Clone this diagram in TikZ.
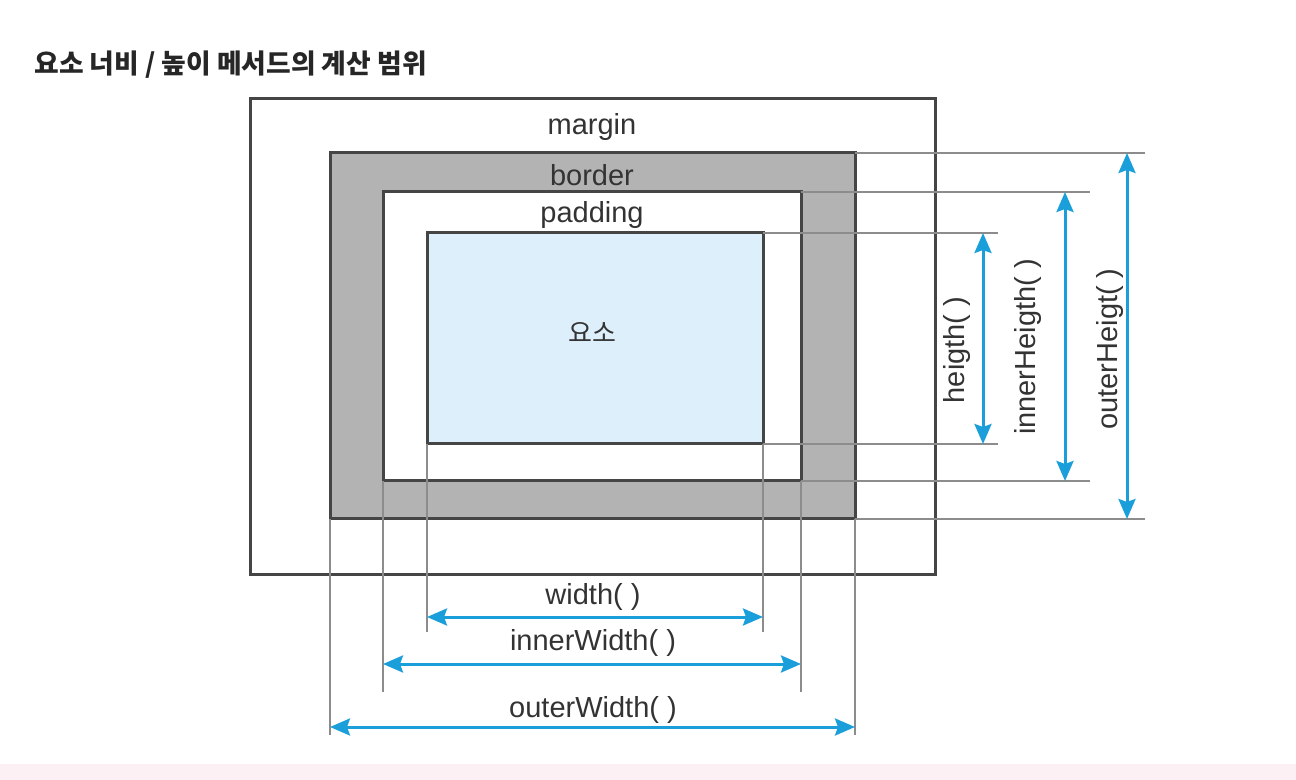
\documentclass[tikz,border=0pt]{standalone}
\usepackage{fontspec}
\setmainfont{Liberation Sans}
\newfontfamily\krfont{Noto Sans CJK KR}
\usetikzlibrary{arrows.meta}
\definecolor{edgecol}{HTML}{454545}
\definecolor{bordergray}{HTML}{B3B3B3}
\definecolor{contentblue}{HTML}{DDEFFA}
\definecolor{dimblue}{HTML}{1A9FDB}
\definecolor{guidecol}{HTML}{8C8C8C}
\definecolor{pinkstrip}{HTML}{FDF0F5}
\definecolor{txtcol}{HTML}{333333}
\tikzset{
  boxnode/.style={draw=edgecol, line width=1.5pt, inner sep=0pt, outer sep=0pt},
  guideline/.style={draw=guidecol, line width=0.6pt},
  dimarrow/.style={draw=dimblue, line width=1.5pt, {Stealth[length=10pt,width=8.5pt,inset=1.5pt]}-{Stealth[length=10pt,width=8.5pt,inset=1.5pt]}},
  lbl/.style={text=txtcol, font=\fontsize{14.5}{16}\selectfont, inner sep=0pt},
  titlelbl/.style={text=black!85, font=\krfont\bfseries\fontsize{13.4}{15}\selectfont, inner sep=0pt, anchor=west}
}
\begin{document}
\begin{tikzpicture}[x=0.5pt,y=-0.5pt]
\useasboundingbox (0,0) rectangle (1296,780);
\fill[white] (0,0) rectangle (1296,780);
\fill[pinkstrip] (0,764) rectangle (1296,780);

\node[titlelbl] (title) at (34,65) {요소 너비 / 높이 메서드의 계산 범위};

% boxes
\node[boxnode, minimum width=342.5pt, minimum height=237.5pt] (margin) at (592.5,336.5) {};
\node[boxnode, fill=bordergray, minimum width=262.5pt, minimum height=183pt] (border) at (592.5,336) {};
\node[boxnode, fill=white, minimum width=209pt, minimum height=144.5pt] (padding) at (592,336.5) {};
\node[boxnode, fill=contentblue, minimum width=168pt, minimum height=105.5pt] (content) at (595,338.5) {};

% labels in boxes
\node[lbl] (lmargin) at (592,127) {margin};
\node[lbl] (lborder) at (592,175) {border};
\node[lbl] (lpadding) at (592,215) {padding};
\node[text=txtcol, font=\krfont\fontsize{13}{15}\selectfont, inner sep=0pt] (lcontent) at (592,332) {요소};

% guide lines (vertical)
\draw[guideline] (content.south west) -- ++(0,188) coordinate (gcl);
\draw[guideline] (content.south east) -- ++(0,188) coordinate (gcr);
\draw[guideline] (padding.south west) -- ++(0,211) coordinate (gpl);
\draw[guideline] (padding.south east) -- ++(0,211) coordinate (gpr);
\draw[guideline] (border.south west) -- ++(0,216) coordinate (gbl);
\draw[guideline] (border.south east) -- ++(0,216) coordinate (gbr);
% guide lines (horizontal)
\draw[guideline] (content.north east) -- ++(235,0) coordinate (gct);
\draw[guideline] (content.south east) -- ++(235,0) coordinate (gcb);
\draw[guideline] (padding.north east) -- ++(289,0) coordinate (gpt);
\draw[guideline] (padding.south east) -- ++(289,0) coordinate (gpb);
\draw[guideline] (border.north east) -- ++(290,0) coordinate (gbt);
\draw[guideline] (border.south east) -- ++(290,0) coordinate (gbb);

% horizontal dimension arrows
\coordinate (wL) at (content.south west |- 0,617);
\coordinate (wR) at (content.south east |- 0,617);
\coordinate (iwL) at (padding.south west |- 0,664);
\coordinate (iwR) at (padding.south east |- 0,664);
\coordinate (owL) at (border.south west |- 0,727);
\coordinate (owR) at (border.south east |- 0,727);
\draw[dimarrow] (wL) -- (wR);
\draw[dimarrow] (iwL) -- (iwR);
\draw[dimarrow] (owL) -- (owR);
\node[lbl] (lwidth) at (593,597) {width( )};
\node[lbl] (linnerwidth) at (593,643) {innerWidth( )};
\node[lbl] (louterwidth) at (593,710) {outerWidth( )};

% vertical dimension arrows
\coordinate (hT) at (983,0 |- content.north);
\coordinate (hB) at (983,0 |- content.south);
\coordinate (ihT) at (1065,0 |- padding.north);
\coordinate (ihB) at (1065,0 |- padding.south);
\coordinate (ohT) at (1127,0 |- border.north);
\coordinate (ohB) at (1127,0 |- border.south);
\draw[dimarrow] (hT) -- (hB);
\draw[dimarrow] (ihT) -- (ihB);
\draw[dimarrow] (ohT) -- (ohB);
\node[lbl, rotate=90] (lheight) at (957,350) {heigth( )};
\node[lbl, rotate=90] (linnerheight) at (1028,347) {innerHeigth( )};
\node[lbl, rotate=90] (louterheight) at (1110,349) {outerHeigt( )};
\end{tikzpicture}
\end{document}
